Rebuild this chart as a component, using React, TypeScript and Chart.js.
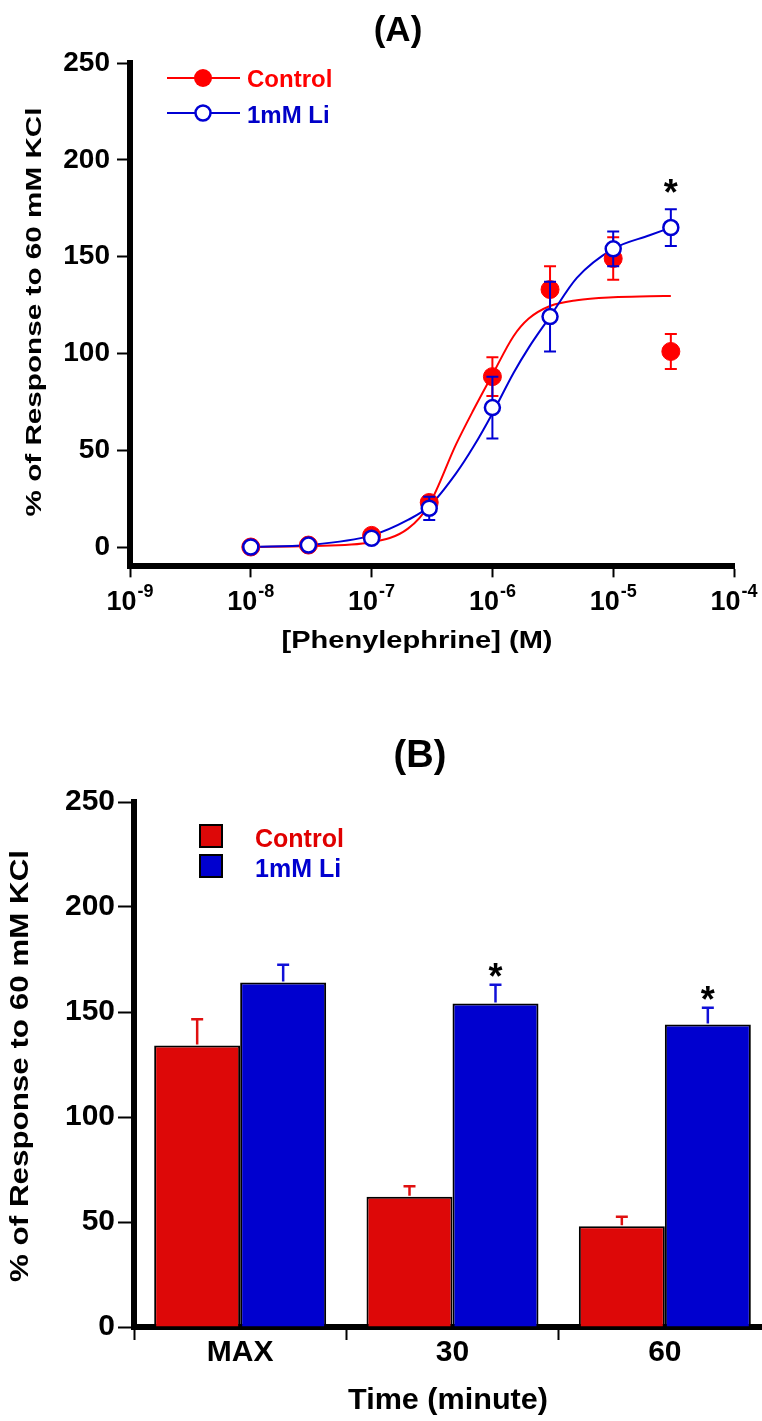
import React, { useEffect, useRef } from 'react';
import { Chart, registerables } from 'chart.js';

Chart.register(...registerables);

const FONT = '"Liberation Sans", Arial, Helvetica, sans-serif';

// ---------- Panel A data ----------
const concentrations = [1e-8, 3e-8, 1e-7, 3e-7, 1e-6, 3e-6, 1e-5, 3e-5];
const controlMean = [0, 1, 6, 23, 88, 133, 149, 101];
const controlSem = [0.5, 0.5, 1.5, 3, 10, 12, 11, 9];
const liMean = [0, 1, 4.5, 20, 72, 119, 154, 165];
const liSem = [0.5, 0.5, 1.5, 6, 16, 18, 9, 9.5];
const liSignificantA = [false, false, false, false, false, false, false, true];

const fitConcentrations = [1e-8, 3e-8, 1e-7, 2e-7, 3e-7, 5e-7, 7e-7, 1e-6, 1.5e-6, 2e-6, 3e-6, 5e-6, 1e-5, 2e-5, 3e-5];
const controlFit = [0, 0.5, 2.5, 9.5, 22, 53, 71, 89, 109, 118, 124.5, 127.5, 129, 129.5, 129.7];
const liFit = [0, 1, 6, 14, 21, 38, 52, 69, 90, 103, 119, 139, 154, 161, 165];

const xTickValuesA = [1e-9, 1e-8, 1e-7, 1e-6, 1e-5, 1e-4];
const xTickExponentsA = ['-9', '-8', '-7', '-6', '-5', '-4'];
const yTickValuesA = [0, 50, 100, 150, 200, 250];

const seriesNames = ['Control', '1mM Li'];

// ---------- Panel B data ----------
const timeCategories = ['MAX', '30', '60'];
const controlBars = [134, 62, 48];
const controlBarsSem = [12.5, 5, 4.5];
const liBars = [164, 154, 144];
const liBarsSem = [8.5, 9, 8];
const liSignificantB = [false, true, true];
const yTickValuesB = [0, 50, 100, 150, 200, 250];

// ---------- colours ----------
const RED_A = '#FF0000';
const BLUE_A = '#0000D4';
const RED_B = '#DD0808';
const BLUE_B = '#0000CF';
const RED_ERR_B = '#E01010';
const BLUE_ERR_B = '#1010D8';

function drawText(
  ctx: CanvasRenderingContext2D,
  text: string,
  x: number,
  y: number,
  size: number,
  opts: { color?: string; align?: 'left' | 'center' | 'right'; rotate?: boolean; width?: number } = {}
) {
  ctx.save();
  ctx.font = `bold ${size}px ${FONT}`;
  ctx.fillStyle = opts.color || '#000';
  ctx.textBaseline = 'alphabetic';
  ctx.textAlign = 'left';
  ctx.translate(x, y);
  if (opts.rotate) ctx.rotate(-Math.PI / 2);
  const w = ctx.measureText(text).width;
  const sx = opts.width ? opts.width / w : 1;
  ctx.scale(sx, 1);
  const align = opts.align || 'left';
  const dx = align === 'center' ? -w / 2 : align === 'right' ? -w : 0;
  ctx.fillText(text, dx, 0);
  ctx.restore();
}

function drawAsterisk(ctx: CanvasRenderingContext2D, cx: number, cy: number, size: number) {
  ctx.save();
  ctx.font = `bold ${size}px ${FONT}`;
  ctx.fillStyle = '#000';
  ctx.textAlign = 'center';
  ctx.textBaseline = 'alphabetic';
  const m = ctx.measureText('*');
  const asc = m.actualBoundingBoxAscent || size * 0.73;
  const desc = m.actualBoundingBoxDescent || -size * 0.44;
  const baseline = cy - (desc - asc) / 2;
  ctx.fillText('*', cx, baseline);
  ctx.restore();
}

const panelAPlugin = {
  id: 'panelA',
  beforeDatasetDraw(chart: any, args: any) {
    const { ctx } = chart;
    const xs = chart.scales.x;
    const ys = chart.scales.y;
    let means: number[] | null = null;
    let sems: number[] = [];
    let color = '#000';
    if (args.index === 2) {
      means = controlMean; sems = controlSem; color = RED_A;
    } else if (args.index === 3) {
      means = liMean; sems = liSem; color = BLUE_A;
    }
    if (!means) return;
    ctx.save();
    ctx.strokeStyle = color;
    ctx.lineWidth = 2;
    concentrations.forEach((c, i) => {
      const px = xs.getPixelForValue(c);
      const top = ys.getPixelForValue(means![i] + sems[i]);
      const bot = ys.getPixelForValue(means![i] - sems[i]);
      ctx.beginPath();
      ctx.moveTo(px, top); ctx.lineTo(px, bot);
      ctx.moveTo(px - 6, top); ctx.lineTo(px + 6, top);
      ctx.moveTo(px - 6, bot); ctx.lineTo(px + 6, bot);
      ctx.stroke();
    });
    ctx.restore();
  },
  afterDraw(chart: any) {
    const { ctx } = chart;
    const xs = chart.scales.x;
    const ys = chart.scales.y;

    // title
    drawText(ctx, '(A)', 398, 41, 35, { align: 'center' });

    // x tick labels with superscripts
    xTickValuesA.forEach((v, i) => {
      const px = xs.getPixelForValue(v);
      ctx.save();
      ctx.font = `bold 27px ${FONT}`;
      const w1 = ctx.measureText('10').width;
      ctx.font = `bold 18px ${FONT}`;
      const w2 = ctx.measureText(xTickExponentsA[i]).width;
      ctx.restore();
      const start = px - (w1 + w2 + 1) / 2;
      drawText(ctx, '10', start, 610, 27);
      drawText(ctx, xTickExponentsA[i], start + w1 + 1, 597, 18);
    });

    // axis titles
    drawText(ctx, '[Phenylephrine] (M)', 417, 648, 24, { align: 'center', width: 271 });
    drawText(ctx, '% of Response to 60 mM KCl', 41, 312, 22, { align: 'center', rotate: true, width: 409 });

    // legend
    ctx.save();
    ctx.lineWidth = 2;
    ctx.strokeStyle = RED_A;
    ctx.beginPath(); ctx.moveTo(167, 78); ctx.lineTo(240, 78); ctx.stroke();
    ctx.fillStyle = RED_A;
    ctx.beginPath(); ctx.arc(203, 78, 9, 0, Math.PI * 2); ctx.fill();
    ctx.strokeStyle = BLUE_A;
    ctx.beginPath(); ctx.moveTo(167, 113); ctx.lineTo(240, 113); ctx.stroke();
    ctx.fillStyle = '#fff';
    ctx.lineWidth = 2.5;
    ctx.beginPath(); ctx.arc(203, 113, 7.5, 0, Math.PI * 2); ctx.fill(); ctx.stroke();
    ctx.restore();
    drawText(ctx, seriesNames[0], 247, 87, 24, { color: RED_A });
    drawText(ctx, seriesNames[1], 247, 123, 24, { color: '#0000C8' });

    // significance
    concentrations.forEach((c, i) => {
      if (!liSignificantA[i]) return;
      const px = xs.getPixelForValue(c);
      const py = ys.getPixelForValue(liMean[i] + liSem[i]) - 23;
      drawAsterisk(ctx, px, py, 36);
    });
  },
};

const panelBPlugin = {
  id: 'panelB',
  afterDatasetsDraw(chart: any) {
    const { ctx } = chart;
    const ys = chart.scales.y;
    const sets = [
      { means: controlBars, sems: controlBarsSem, color: RED_ERR_B, meta: chart.getDatasetMeta(0) },
      { means: liBars, sems: liBarsSem, color: BLUE_ERR_B, meta: chart.getDatasetMeta(1) },
    ];
    sets.forEach((s) => {
      ctx.save();
      ctx.strokeStyle = s.color;
      ctx.lineWidth = 2.5;
      s.means.forEach((m, i) => {
        const px = s.meta.data[i].x;
        const base = ys.getPixelForValue(m);
        const top = ys.getPixelForValue(m + s.sems[i]);
        ctx.beginPath();
        ctx.moveTo(px, base - 1); ctx.lineTo(px, top);
        ctx.moveTo(px - 6, top); ctx.lineTo(px + 6, top);
        ctx.stroke();
      });
      ctx.restore();
    });
    const liMeta = chart.getDatasetMeta(1);
    liBars.forEach((m, i) => {
      if (!liSignificantB[i]) return;
      const px = liMeta.data[i].x;
      const py = ys.getPixelForValue(m + liBarsSem[i]) - 15;
      drawAsterisk(ctx, px, py, 36);
    });
  },
  afterDraw(chart: any) {
    const { ctx } = chart;
    drawText(ctx, '(B)', 420, 87, 38, { align: 'center' });
    drawText(ctx, 'Time (minute)', 448, 729, 30, { align: 'center', width: 200 });
    drawText(ctx, '% of Response to 60 mM KCl', 28, 386, 25, { align: 'center', rotate: true, width: 432 });

    ctx.save();
    ctx.lineWidth = 2;
    ctx.strokeStyle = '#000';
    ctx.fillStyle = RED_B;
    ctx.fillRect(200, 145, 22, 22);
    ctx.strokeRect(200, 145, 22, 22);
    ctx.fillStyle = BLUE_B;
    ctx.fillRect(200, 175, 22, 22);
    ctx.strokeRect(200, 175, 22, 22);
    ctx.restore();
    drawText(ctx, seriesNames[0], 255, 167, 25, { color: '#E00000' });
    drawText(ctx, seriesNames[1], 255, 197, 25, { color: '#0000D0' });
  },
};

export default function App() {
  const refA = useRef<HTMLCanvasElement>(null);
  const refB = useRef<HTMLCanvasElement>(null);

  useEffect(() => {
    const tickFontA = { family: FONT, size: 28, weight: 'bold' as const };
    const tickFontB = { family: FONT, size: 30, weight: 'bold' as const };

    const chartA = new Chart(refA.current as HTMLCanvasElement, {
      type: 'scatter',
      data: {
        datasets: [
          {
            label: 'Control fit',
            data: fitConcentrations.map((c, i) => ({ x: c, y: controlFit[i] })),
            showLine: true,
            borderColor: RED_A,
            borderWidth: 2,
            pointRadius: 0,
            cubicInterpolationMode: 'monotone',
            order: 4,
          } as any,
          {
            label: '1mM Li fit',
            data: fitConcentrations.map((c, i) => ({ x: c, y: liFit[i] })),
            showLine: true,
            borderColor: BLUE_A,
            borderWidth: 2,
            pointRadius: 0,
            cubicInterpolationMode: 'monotone',
            order: 3,
          } as any,
          {
            label: seriesNames[0],
            data: concentrations.map((c, i) => ({ x: c, y: controlMean[i] })),
            showLine: false,
            pointRadius: 9,
            pointBackgroundColor: RED_A,
            pointBorderColor: RED_A,
            pointBorderWidth: 1,
            order: 2,
          } as any,
          {
            label: seriesNames[1],
            data: concentrations.map((c, i) => ({ x: c, y: liMean[i] })),
            showLine: false,
            pointRadius: 7.5,
            pointBackgroundColor: '#FFFFFF',
            pointBorderColor: BLUE_A,
            pointBorderWidth: 2.5,
            order: 1,
          } as any,
        ],
      },
      options: {
        responsive: false,
        animation: false,
        events: [],
        layout: { padding: { top: 63, right: 28, bottom: 0, left: 0 }, autoPadding: false },
        plugins: { legend: { display: false }, tooltip: { enabled: false }, title: { display: false } },
        scales: {
          x: {
            type: 'logarithmic',
            position: 'bottom',
            min: 1e-9,
            max: 1e-4,
            afterBuildTicks: (s: any) => {
              s.ticks = xTickValuesA.map((v) => ({ value: v }));
            },
            afterFit: (s: any) => {
              s.height = 113.64;
            },
            ticks: { display: false },
            grid: { display: true, drawOnChartArea: false, drawTicks: true, tickLength: 11, tickWidth: 2, tickColor: '#000', color: '#000' },
            border: { display: true, width: 6, color: '#000' },
          },
          y: {
            type: 'linear',
            min: -10,
            max: 250,
            afterBuildTicks: (s: any) => {
              s.ticks = yTickValuesA.map((v) => ({ value: v }));
            },
            afterFit: (s: any) => {
              s.width = 130;
            },
            ticks: { color: '#000', font: tickFontA, padding: 7, callback: (v: any) => String(v) },
            grid: { display: true, drawOnChartArea: false, drawTicks: true, tickLength: 13, tickWidth: 2, tickColor: '#000', color: '#000' },
            border: { display: true, width: 6, color: '#000' },
          },
        },
      } as any,
      plugins: [panelAPlugin],
    });

    const chartB = new Chart(refB.current as HTMLCanvasElement, {
      type: 'bar',
      data: {
        labels: timeCategories,
        datasets: [
          {
            label: seriesNames[0],
            data: controlBars,
            backgroundColor: RED_B,
            borderColor: '#000',
            borderWidth: 2,
            categoryPercentage: 0.81,
            barPercentage: 1,
          },
          {
            label: seriesNames[1],
            data: liBars,
            backgroundColor: BLUE_B,
            borderColor: '#000',
            borderWidth: 2,
            categoryPercentage: 0.81,
            barPercentage: 1,
          },
        ],
      },
      options: {
        responsive: false,
        animation: false,
        events: [],
        layout: { padding: { top: 122, right: 1, bottom: 0, left: 0 }, autoPadding: false },
        plugins: { legend: { display: false }, tooltip: { enabled: false }, title: { display: false } },
        scales: {
          x: {
            type: 'category',
            z: 1,
            afterFit: (s: any) => {
              s.height = 94;
            },
            ticks: { color: '#000', font: tickFontB, padding: -5, maxRotation: 0 },
            grid: { display: true, offset: true, drawOnChartArea: false, drawTicks: true, tickLength: 13, tickWidth: 2, tickColor: '#000', color: '#000' },
            border: { display: true, width: 6, color: '#000' },
          },
          y: {
            type: 'linear',
            z: 1,
            min: 0,
            max: 250,
            afterBuildTicks: (s: any) => {
              s.ticks = yTickValuesB.map((v) => ({ value: v }));
            },
            afterFit: (s: any) => {
              s.width = 134;
            },
            ticks: { color: '#000', font: tickFontB, padding: 3, callback: (v: any) => String(v) },
            grid: { display: true, drawOnChartArea: false, drawTicks: true, tickLength: 16, tickWidth: 2, tickColor: '#000', color: '#000' },
            border: { display: true, width: 6, color: '#000' },
          },
        },
      } as any,
      plugins: [panelBPlugin],
    });

    return () => {
      chartA.destroy();
      chartB.destroy();
    };
  }, []);

  return (
    <div
      style={{
        position: 'absolute',
        left: 0,
        top: 0,
        width: 762,
        height: 1421,
        overflow: 'hidden',
        background: '#fff',
      }}
    >
      <canvas ref={refA} width={762} height={680} style={{ display: 'block', width: 762, height: 680 }} />
      <canvas ref={refB} width={772} height={741} style={{ display: 'block', width: 772, height: 741 }} />
    </div>
  );
}
